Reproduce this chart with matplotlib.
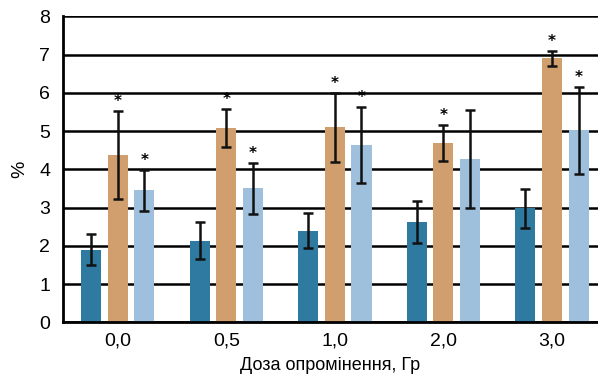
import numpy as np
import matplotlib
matplotlib.use("Agg")
from matplotlib import pyplot as plt

plt.rcParams['font.family'] = ['Liberation Sans', 'DejaVu Sans']

# dose groups
doses = ["0,0", "0,5", "1,0", "2,0", "3,0"]

# three series per dose group
dark_vals = [1.9, 2.14, 2.40, 2.62, 2.98]
dark_err = [0.40, 0.48, 0.45, 0.54, 0.50]

tan_vals = [4.37, 5.08, 5.10, 4.70, 6.90]
tan_err = [1.15, 0.50, 0.90, 0.47, 0.19]
tan_star = [True, True, True, True, True]

light_vals = [3.45, 3.50, 4.64, 4.27, 5.02]
light_err = [0.53, 0.67, 1.00, 1.27, 1.13]
light_star = [True, True, True, False, True]

x = np.arange(len(doses))
w = 0.185
step = 0.245

fig = plt.figure(figsize=(5.98, 3.78), dpi=100)
ax = fig.add_axes([0.105, 0.147, 0.895, 0.81])

# horizontal lines behind the bars
for yy in range(0, 9):
    ax.axhline(yy, color='black', lw=1.8, zorder=0)

ekw = dict(ecolor='#111111', elinewidth=1.8, capsize=3.5, capthick=1.8)
ax.bar(x - step, dark_vals, w, color='#2e7aa1', zorder=2)
ax.errorbar(x - step, dark_vals, yerr=dark_err, fmt='none', zorder=3, **ekw)
ax.bar(x, tan_vals, w, color='#d19f6e', zorder=2)
ax.errorbar(x, tan_vals, yerr=tan_err, fmt='none', zorder=3, **ekw)
ax.bar(x + step, light_vals, w, color='#9fc0dc', zorder=2)
ax.errorbar(x + step, light_vals, yerr=light_err, fmt='none', zorder=3, **ekw)

# significance stars
for i in range(len(doses)):
    if tan_star[i]:
        ax.text(x[i], tan_vals[i] + tan_err[i] + 0.05, "*", ha='center', va='bottom',
                fontsize=11, fontweight='bold', family='DejaVu Sans')
    if light_star[i]:
        ax.text(x[i] + step, light_vals[i] + light_err[i] + 0.05, "*", ha='center', va='bottom',
                fontsize=11, fontweight='bold', family='DejaVu Sans')

ax.set_xlim(-0.507, 4.424)
ax.set_ylim(0, 8)
ax.set_yticks(range(0, 9))
ax.set_xticks(x)
ax.set_xticklabels(doses)
ax.tick_params(axis='both', length=0, labelsize=14, pad=9)
ax.tick_params(axis='x', pad=7)

for s in ['top', 'right']:
    ax.spines[s].set_visible(False)
ax.spines['left'].set_linewidth(2)
ax.spines['bottom'].set_linewidth(2)

ax.set_xlabel("Доза опромінення, Гр", fontsize=13, labelpad=6)
ax.set_ylabel("%", fontsize=14, labelpad=8)

plt.savefig("out.png", dpi=100)
